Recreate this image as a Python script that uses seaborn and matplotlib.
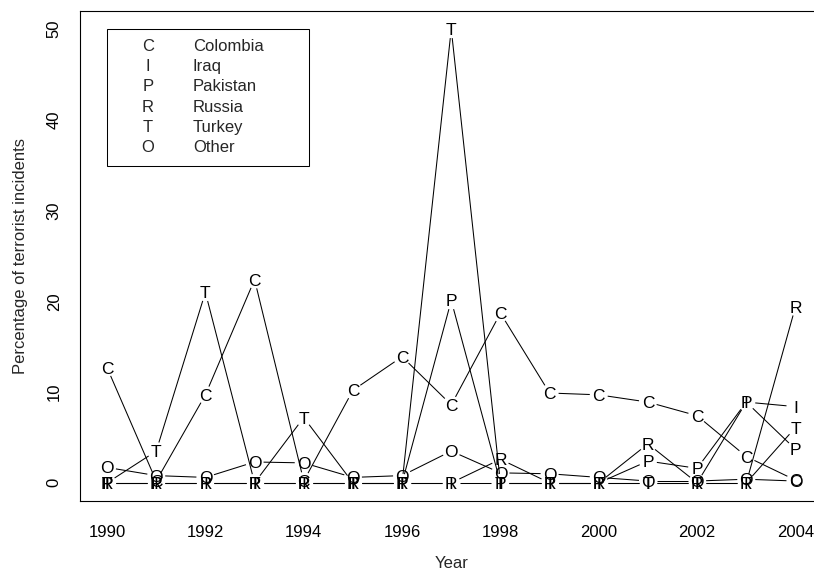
import numpy as np
import pandas as pd
import seaborn as sns
import matplotlib.pyplot as plt
from matplotlib.patches import Rectangle

years = list(range(1990, 2005))
colombia = [12.7, 0.2, 9.7, 22.4, 0.2, 10.2, 13.9, 8.6, 18.7, 9.9, 9.7, 8.9, 7.4, 2.9, 0.3]
iraq = [0, 0, 0, 0, 0, 0, 0, 0, 0, 0, 0, 0, 0, 8.9, 8.4]
pakistan = [0, 0, 0, 0, 0, 0, 0, 20.1, 0, 0, 0, 2.4, 1.6, 8.9, 3.7]
russia = [0, 0, 0, 0, 0, 0, 0, 0, 2.6, 0, 0, 4.3, 0, 0, 19.4]
turkey = [0, 3.5, 21.0, 0, 7.2, 0, 0, 50.0, 0, 0, 0, 0, 0, 0, 6.1]
other = [1.7, 0.8, 0.6, 2.3, 2.2, 0.6, 0.8, 3.5, 1.1, 1.0, 0.6, 0.2, 0.2, 0.4, 0.2]

countries = ["Colombia", "Iraq", "Pakistan", "Russia", "Turkey", "Other"]
letters = ["C", "I", "P", "R", "T", "O"]
values = [colombia, iraq, pakistan, russia, turkey, other]

df = pd.DataFrame({"Year": years})
for name, vals in zip(countries, values):
    df[name] = vals

sns.set_theme(style="white", rc={"axes.edgecolor": "black", "axes.linewidth": 0.8,
                                 "xtick.color": "black", "ytick.color": "black"})
plt.rcParams["font.family"] = ["Liberation Sans", "DejaVu Sans"]

W, H = 814, 576
fig = plt.figure(figsize=(W / 100, H / 100), dpi=100)
# plot region in pixels: left 80, right 823 (cut off), top 11, bottom 501
ax = fig.add_axes([80 / W, (H - 501) / H, 743 / W, 490 / H])
ax.set_xlim(1989.45, 2004.56)
ax.set_ylim(-2.0, 52.0)
ax.spines["right"].set_visible(False)

gap = 9  # px gap around each letter, like R type="b"
for name, letter in zip(countries, letters):
    xs = df["Year"].to_numpy(float)
    ys = df[name].to_numpy(float)
    pts = ax.transData.transform(np.column_stack([xs, ys]))
    inv = ax.transData.inverted()
    for p0, p1 in zip(pts[:-1], pts[1:]):
        d = np.hypot(*(p1 - p0))
        if d <= 2 * gap:
            continue
        u = (p1 - p0) / d
        seg = inv.transform(np.array([p0 + u * gap, p1 - u * gap]))
        ax.plot(seg[:, 0], seg[:, 1], color="black", lw=0.75, solid_capstyle="butt")
    for x, y in zip(xs, ys):
        ax.text(x, y, letter, ha="center", va="center_baseline", fontsize=12.5, color="black")

ax.set_xticks(range(1990, 2005, 2))
ax.set_yticks(range(0, 51, 10))
ax.tick_params(axis="both", direction="out", length=6.7, width=0.75, labelsize=12)
ax.tick_params(axis="x", pad=10.5)
ax.tick_params(axis="y", pad=6.5, labelrotation=90)
for lab in ax.get_yticklabels():
    lab.set_va("center")

ax.set_xlabel("Year", fontsize=12)
ax.set_ylabel("Percentage of terrorist incidents", fontsize=12)
ax.xaxis.set_label_coords(0.5, (501 - 564) / 490)
ax.xaxis.label.set_va("center")
ax.yaxis.set_label_coords((20 - 80) / 743, 0.5)
ax.yaxis.label.set_rotation_mode("default")
ax.yaxis.label.set_ha("center")
ax.yaxis.label.set_va("center")

# legend box drawn like R's legend(), in figure pixels
def fx(px):
    return px / W

def fy(py):
    return (H - py) / H

fig.patches.append(Rectangle((fx(107), fy(166)), fx(309) - fx(107), fy(29) - fy(166),
                             transform=fig.transFigure, fill=False, edgecolor="black", lw=0.75))
for i, (letter, name) in enumerate(zip(letters, countries)):
    row = 45 + i * 20.2
    fig.text(fx(148), fy(row), letter, ha="center", va="center_baseline", fontsize=12)
    fig.text(fx(193), fy(row), name, ha="left", va="center_baseline", fontsize=12)

plt.savefig("out.png", dpi=100)
